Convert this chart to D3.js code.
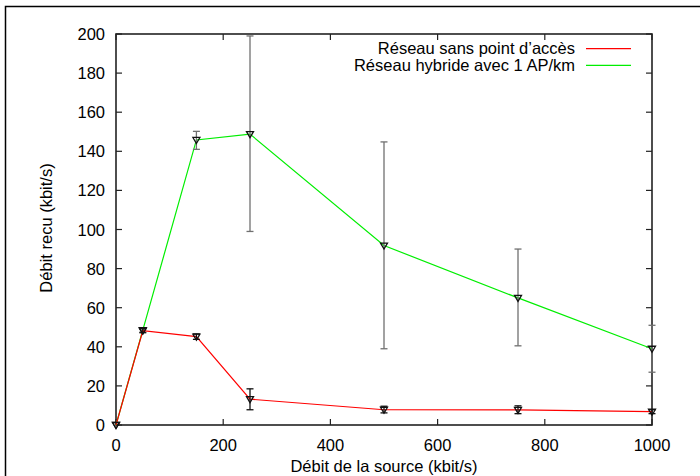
<!DOCTYPE html>
<html>
<head>
<meta charset="utf-8">
<script src="https://cdn.jsdelivr.net/npm/d3@7"></script>
<style>
  body { margin: 0; background: #fff; }
  text { font-family: "Liberation Sans", Arial, sans-serif; fill: #000; }
</style>
</head>
<body>
<svg width="700" height="476"></svg>
<script>
// source rate (kbit/s)
let xs = [0, 50, 150, 250, 500, 750, 1000];

// réseau sans point d'accès
let redY = [0, 48.2, 45.2, 13.2, 7.8, 7.7, 6.8];
let redLo = [0, 47.2, 43.8, 7.8, 6.2, 5.8, 5.8];
let redHi = [0, 49.2, 46.6, 18.5, 9.6, 9.8, 7.8];

// réseau hybride avec 1 AP/km
let greenY = [0, 48.5, 145.8, 148.8, 91.8, 65.0, 39.0];
let greenLo = [0, 47.5, 141.0, 99.0, 39.0, 40.5, 27.0];
let greenHi = [0, 49.5, 150.2, 199.0, 144.8, 90.0, 51.0];

let xTicks = [0, 200, 400, 600, 800, 1000];
let yTicks = [0, 20, 40, 60, 80, 100, 120, 140, 160, 180, 200];

let svg = d3.select('svg');

// outer frame
svg.append("rect")
  .attr("x", 5.5).attr("y", 6.5)
  .attr("width", 720).attr("height", 500)
  .attr("fill", "none").attr("stroke", "#000").attr("stroke-width", 1.5);

let pLeft = 116, pRight = 652, pTop = 34, pBottom = 425;

let xScale = d3.scaleLinear().domain([0, 1000]).range([pLeft, pRight]);
let yScale = d3.scaleLinear().domain([0, 200]).range([pBottom, pTop]);

let g = svg.append("g");

// ticks on all four sides, pointing inward
let tl = 6;
xTicks.forEach(t => {
  g.append("line").attr("x1", xScale(t)).attr("x2", xScale(t))
    .attr("y1", pBottom).attr("y2", pBottom - tl).attr("stroke", "#222").attr("stroke-width", 1.2);
  g.append("line").attr("x1", xScale(t)).attr("x2", xScale(t))
    .attr("y1", pTop).attr("y2", pTop + tl).attr("stroke", "#222").attr("stroke-width", 1.2);
  g.append("text").attr("x", xScale(t)).attr("y", 451)
    .attr("text-anchor", "middle").style("font-size", "16.5px").text(t);
});
yTicks.forEach(t => {
  g.append("line").attr("x1", pLeft).attr("x2", pLeft + tl)
    .attr("y1", yScale(t)).attr("y2", yScale(t)).attr("stroke", "#222").attr("stroke-width", 1.2);
  g.append("line").attr("x1", pRight).attr("x2", pRight - tl)
    .attr("y1", yScale(t)).attr("y2", yScale(t)).attr("stroke", "#222").attr("stroke-width", 1.2);
  g.append("text").attr("x", 105).attr("y", yScale(t) + 6)
    .attr("text-anchor", "end").style("font-size", "16.5px").text(t);
});

// plot border
g.append("rect")
  .attr("x", pLeft).attr("y", pTop)
  .attr("width", pRight - pLeft).attr("height", pBottom - pTop)
  .attr("fill", "none").attr("stroke", "#222").attr("stroke-width", 1.6);

// axis labels
svg.append("text").attr("x", 384).attr("y", 472)
  .attr("text-anchor", "middle").style("font-size", "16.5px")
  .text("Débit de la source (kbit/s)");
svg.append("text")
  .attr("transform", "translate(52,228) rotate(-90)")
  .attr("text-anchor", "middle").style("font-size", "16.5px")
  .text("Débit recu (kbit/s)");

function draw_series(ys, lo, hi, color, barColor) {
  let pts = xs.map((x, i) => ({x: x, y: ys[i], lo: lo[i], hi: hi[i]}));

  g.append("path")
    .datum(pts)
    .attr("fill", "none")
    .attr("stroke", color)
    .attr("stroke-width", 1.2)
    .attr("d", d3.line()
      .x(d => xScale(d.x))
      .y(d => yScale(d.y)));

  // error bars
  pts.filter(d => d.hi > d.lo).forEach(d => {
    let cx = xScale(d.x);
    g.append("line").attr("x1", cx).attr("x2", cx)
      .attr("y1", yScale(d.lo)).attr("y2", yScale(d.hi))
      .attr("stroke", barColor).attr("stroke-width", 1.3);
    [d.lo, d.hi].forEach(v => {
      g.append("line").attr("x1", cx - 3.5).attr("x2", cx + 3.5)
        .attr("y1", yScale(v)).attr("y2", yScale(v))
        .attr("stroke", barColor).attr("stroke-width", 1.3);
    });
  });

  // down triangles
  g.selectAll(null)
    .data(pts).enter()
    .append("path")
    .attr("transform", d => "translate(" + xScale(d.x) + "," + yScale(d.y) + ")")
    .attr("d", "M-3.5,-2.5L3.5,-2.5L0,3.5Z")
    .attr("fill", "none")
    .attr("stroke", "#111")
    .attr("stroke-width", 1.3);
}

draw_series(greenY, greenLo, greenHi, "#00ee00", "#707070");
draw_series(redY, redLo, redHi, "#ff0000", "#111");

// legend
let legend = [["Réseau sans point d’accès", "#ff0000"], ["Réseau hybride avec 1 AP/km", "#00ee00"]];
legend.forEach((l, i) => {
  let ly = 48.7 + i * 16.6;
  svg.append("text").attr("x", 575).attr("y", ly + 5.5)
    .attr("text-anchor", "end").style("font-size", "16.5px").text(l[0]);
  svg.append("line").attr("x1", 586).attr("x2", 631)
    .attr("y1", ly).attr("y2", ly)
    .attr("stroke", l[1]).attr("stroke-width", 1.2);
});
</script>
</body>
</html>
